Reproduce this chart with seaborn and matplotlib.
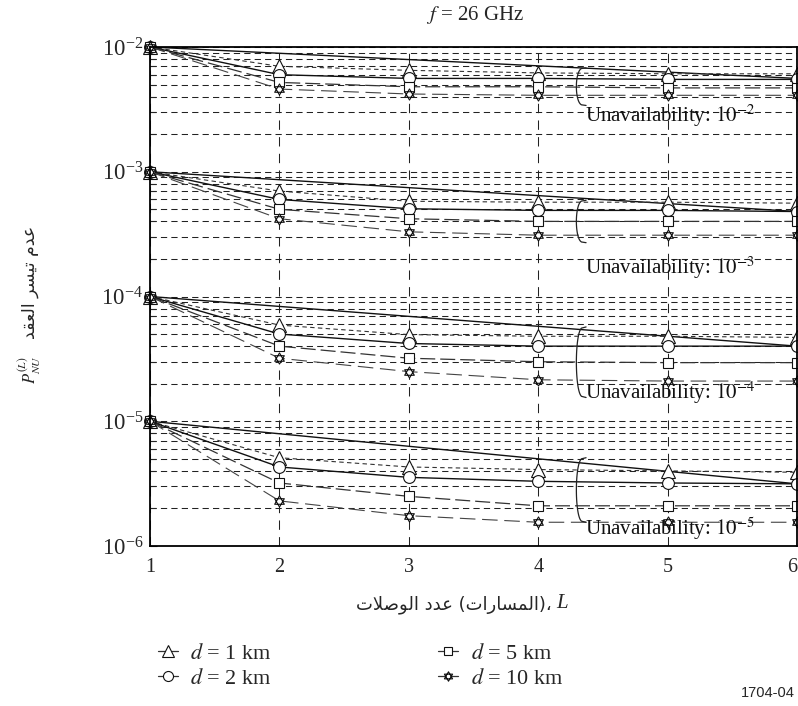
import numpy as np
import pandas as pd
import matplotlib
matplotlib.use("Agg")
import matplotlib.pyplot as plt
from matplotlib.path import Path
from matplotlib.lines import Line2D
from matplotlib.ticker import LogLocator, NullFormatter
import seaborn as sns

# ---------------- data ----------------
links = [1, 2, 3, 4, 5, 6]
unavailability = [1e-2, 1e-3, 1e-4, 1e-5]
unavail_exp = ["-2", "-3", "-4", "-5"]

p_d1 = [[1e-2, 7.0e-3, 6.5e-3, 6.2e-3, 6.1e-3, 6.1e-3],
        [1e-3, 7.0e-4, 5.8e-4, 5.7e-4, 5.7e-4, 5.6e-4],
        [1e-4, 5.9e-5, 4.95e-5, 4.8e-5, 4.8e-5, 4.7e-5],
        [1e-5, 5.1e-6, 4.3e-6, 4.1e-6, 4.0e-6, 3.9e-6]]
p_d2 = [[1e-2, 6.0e-3, 5.6e-3, 5.6e-3, 5.5e-3, 5.5e-3],
        [1e-3, 6.0e-4, 5.05e-4, 4.9e-4, 4.9e-4, 4.8e-4],
        [1e-4, 5.0e-5, 4.2e-5, 4.0e-5, 4.0e-5, 4.0e-5],
        [1e-5, 4.3e-6, 3.55e-6, 3.3e-6, 3.2e-6, 3.15e-6]]
p_d5 = [[1e-2, 5.2e-3, 4.8e-3, 4.8e-3, 4.7e-3, 4.7e-3],
        [1e-3, 5.0e-4, 4.2e-4, 4.0e-4, 4.0e-4, 4.0e-4],
        [1e-4, 4.0e-5, 3.2e-5, 3.0e-5, 2.95e-5, 2.95e-5],
        [1e-5, 3.2e-6, 2.5e-6, 2.1e-6, 2.1e-6, 2.1e-6]]
p_d10 = [[1e-2, 4.6e-3, 4.2e-3, 4.1e-3, 4.1e-3, 4.1e-3],
         [1e-3, 4.2e-4, 3.3e-4, 3.1e-4, 3.1e-4, 3.1e-4],
         [1e-4, 3.2e-5, 2.5e-5, 2.15e-5, 2.1e-5, 2.1e-5],
         [1e-5, 2.3e-6, 1.75e-6, 1.55e-6, 1.55e-6, 1.55e-6]]
# straight reference line of each group, value at L = 6
trend_end = [5.6e-3, 4.8e-4, 4.0e-5, 3.15e-6]

distance_labels = ["$d$ = 1 km", "$d$ = 2 km", "$d$ = 5 km", "$d$ = 10 km"]
series = [p_d1, p_d2, p_d5, p_d10]

# annotation placement (value ranges of the braces, text level)
brace_top = [6.8e-3, 5.9e-4, 5.7e-5, 5.1e-6]
brace_bot = [3.4e-3, 2.7e-4, 1.55e-5, 1.55e-6]
text_level = [2.8e-3, 1.69e-4, 1.68e-5, 1.39e-6]

title_text = "$f$ = 26 GHz"
ylabel_ar = "عدم تيسر العقد"
ylabel_sym = "$P_{NU}^{(L)}$"
xlabel_words = ["عدد", "الوصلات", "المسارات"]
fig_code = "1704-04"

# ---------------- Arabic shaping (visual order) ----------------
FORMS = {
    'ا': ('\uFE8D', '\uFE8E', None, None),
    'ت': ('\uFE95', '\uFE96', '\uFE97', '\uFE98'),
    'د': ('\uFEA9', '\uFEAA', None, None),
    'ر': ('\uFEAD', '\uFEAE', None, None),
    'س': ('\uFEB1', '\uFEB2', '\uFEB3', '\uFEB4'),
    'ص': ('\uFEB9', '\uFEBA', '\uFEBB', '\uFEBC'),
    'ع': ('\uFEC9', '\uFECA', '\uFECB', '\uFECC'),
    'ق': ('\uFED5', '\uFED6', '\uFED7', '\uFED8'),
    'ل': ('\uFEDD', '\uFEDE', '\uFEDF', '\uFEE0'),
    'م': ('\uFEE1', '\uFEE2', '\uFEE3', '\uFEE4'),
    'و': ('\uFEED', '\uFEEE', None, None),
    'ي': ('\uFEF1', '\uFEF2', '\uFEF3', '\uFEF4'),
}
LAM_ALEF = ('\uFEFB', '\uFEFC')


def shape(text):
    units, i = [], 0
    while i < len(text):
        if text[i] == 'ل' and i + 1 < len(text) and text[i + 1] == 'ا':
            units.append('LA'); i += 2
        else:
            units.append(text[i]); i += 1

    def dual(u):
        return u in FORMS and FORMS[u][2] is not None

    def joins(u):
        return u in FORMS or u == 'LA'

    out = []
    for k, u in enumerate(units):
        prev = units[k - 1] if k > 0 else None
        nxt = units[k + 1] if k + 1 < len(units) else None
        jp = prev is not None and dual(prev)
        jn = nxt is not None and joins(nxt) and dual(u)
        if u == 'LA':
            out.append(LAM_ALEF[1] if jp else LAM_ALEF[0]); continue
        if u not in FORMS:
            out.append(u); continue
        iso, fin, ini, med = FORMS[u]
        out.append(med if (jp and jn) else fin if jp else ini if jn else iso)
    return out


def visual(text):
    mirror = {'(': ')', ')': '('}
    return ''.join(mirror.get(g, g) for g in reversed(shape(text)))


# ---------------- style ----------------
sns.set_theme(style="white")
plt.rcParams['font.family'] = ['Liberation Serif', 'DejaVu Sans']
plt.rcParams['mathtext.fontset'] = 'stix'
plt.rcParams['axes.unicode_minus'] = True
AR_FAMILY = ['DejaVu Sans']

fig = plt.figure(figsize=(7.98, 7.06), dpi=100)
W, H = 798, 706
ax = fig.add_axes([150 / W, 1 - 546 / H, (797 - 150) / W, (546 - 47) / H])

# hexagram marker (two overlapping triangles)
a1 = np.deg2rad([90, 210, 330, 90])
a2 = np.deg2rad([270, 30, 150, 270])
verts = np.vstack([np.column_stack([np.cos(a1), np.sin(a1)]),
                   np.column_stack([np.cos(a2), np.sin(a2)])])
codes = [Path.MOVETO, Path.LINETO, Path.LINETO, Path.CLOSEPOLY] * 2
hexagram = Path(verts, codes)

styles = [
    dict(marker='^', markersize=10, linestyle=(0, (4, 3)), linewidth=0.8, color='#333333'),
    dict(marker='o', markersize=8.5, linestyle='-', linewidth=1.0, color='#111111'),
    dict(marker='s', markersize=7.5, linestyle=(0, (12, 4)), linewidth=0.9, color='#333333'),
    dict(marker=hexagram, markersize=8.0, linestyle=(0, (14, 6)), linewidth=0.8, color='#444444'),
]

rows = []
for si, s in enumerate(series):
    for g, vals in enumerate(s):
        for L, v in zip(links, vals):
            rows.append(dict(L=L, P=v, group=g, d=distance_labels[si]))
df = pd.DataFrame(rows)

ax.set_yscale('log')

# straight reference lines
trend_rows = []
for g, (u, e) in enumerate(zip(unavailability, trend_end)):
    trend_rows += [dict(L=links[0], P=u, group=g), dict(L=links[-1], P=e, group=g)]
trend_df = pd.DataFrame(trend_rows)
sns.lineplot(data=trend_df, x='L', y='P', units='group', estimator=None, ax=ax,
             color='#111111', linewidth=1.0, legend=False)

for si, st in enumerate(styles):
    sub = df[df.d == distance_labels[si]]
    sns.lineplot(data=sub, x='L', y='P', units='group', estimator=None, ax=ax,
                 marker=st['marker'], markersize=st['markersize'],
                 linestyle=st['linestyle'], linewidth=st['linewidth'],
                 color=st['color'], markerfacecolor='white',
                 markeredgecolor='#111111', markeredgewidth=0.8,
                 legend=False, clip_on=False)

ax.set_xlim(1, 6)
ax.set_ylim(1e-6, 1e-2)
ax.set_xticks(links)
ax.set_xticklabels([str(v) for v in links])
ax.get_xticklabels()[-1].set_horizontalalignment('right')
ax.yaxis.set_major_locator(LogLocator(base=10, numticks=10))
ax.yaxis.set_minor_locator(LogLocator(base=10, subs=np.arange(2, 10), numticks=20))
ax.yaxis.set_minor_formatter(NullFormatter())
ax.set_xlabel('')
ax.set_ylabel('')

ax.grid(False)
ax.grid(True, which='both', axis='y', color='#222222', linestyle=(0, (6, 4)), linewidth=0.75)
ax.grid(True, which='major', axis='x', color='#222222', linestyle=(0, (9, 7)), linewidth=0.75)
for sp in ax.spines.values():
    sp.set_color('black')
    sp.set_linewidth(1.3)
ax.tick_params(axis='y', which='major', direction='in', length=5, width=0.8, labelsize=16.5, pad=5, left=True)
ax.tick_params(axis='y', which='minor', direction='in', length=4, width=0.8, left=True)
ax.tick_params(axis='x', which='major', length=0, labelsize=14.5, pad=9)

# annotations (braces + text)
t = np.linspace(0, 1, 60)
for g in range(4):
    lt, lb = np.log10(brace_top[g]), np.log10(brace_bot[g])
    yy = 10 ** (lt + (lb - lt) * t)
    xx = 4.37 - 0.075 * np.sin(np.pi * t) ** 0.25
    ax.plot(xx, yy, color='#222222', linewidth=0.9, clip_on=False)
    ax.text(4.36, text_level[g], "Unavailability: $10^{" + unavail_exp[g].replace('-', '−') + "}$",
            fontsize=15, ha='left', va='center', color='#111111')

# titles / labels
fig.text(475 / W, 1 - 15 / H, title_text, ha='center', va='center', fontsize=15)
xlabel_ar = (visual(xlabel_words[1]) + " " + visual(xlabel_words[0]) + " (" +
             visual(xlabel_words[2]) + ")\u060C")
fig.text(552 / W, 1 - 605 / H, xlabel_ar, ha='right', va='center', fontsize=13, family=AR_FAMILY)
fig.text(556 / W, 1 - 604 / H, "L", ha='left', va='center', fontsize=15, style='italic',
         family=['Liberation Serif'])
fig.text(30 / W, 1 - 282 / H, visual(ylabel_ar), ha='center', va='center', rotation=90,
         fontsize=12.5, family=AR_FAMILY)
fig.text(30 / W, 1 - 370 / H, ylabel_sym, ha='center', va='center', rotation=90, fontsize=12)
fig.text(795 / W, 1 - 693 / H, fig_code, ha='right', va='center', fontsize=10.5,
         family=['Liberation Sans', 'DejaVu Sans'])

# legend
handles = []
for si, st in enumerate(styles):
    handles.append(Line2D([0], [0], marker=st['marker'], markersize=st['markersize'] * 0.85,
                          linestyle='-', linewidth=0.9, color='#333333',
                          markerfacecolor='white', markeredgecolor='#111111', markeredgewidth=0.8))
fig.legend(handles, distance_labels, ncol=2, loc='upper left',
           bbox_to_anchor=(138 / W, 1 - 623 / H), frameon=False, fontsize=16,
           handlelength=0.9, handletextpad=0.55, columnspacing=7.5, labelspacing=0.2)

fig.savefig("out.png", dpi=100)
